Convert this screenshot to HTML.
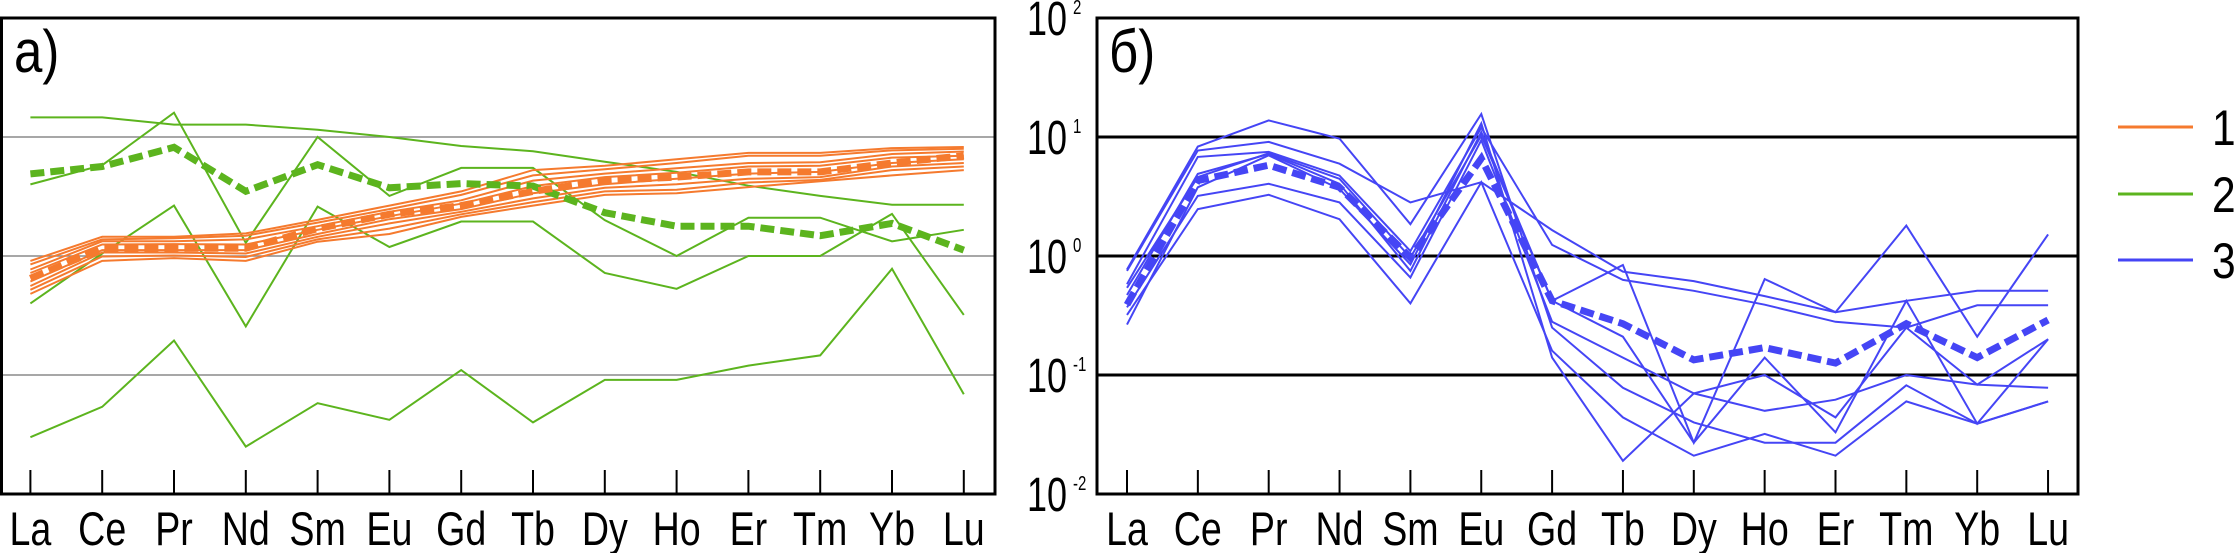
<!DOCTYPE html>
<html><head><meta charset="utf-8"><style>
html,body{margin:0;padding:0;background:#fff;}
svg{display:block;}
text{font-family:"Liberation Sans",sans-serif;fill:#000;}
</style></head><body>
<svg id="chart" width="2240" height="553" viewBox="0 0 2240 553" xmlns="http://www.w3.org/2000/svg">
<g id="panelA"></g>
<g id="panelB"></g>
<g id="legend"></g>
</svg>
<script>
const categories = ["La","Ce","Pr","Nd","Sm","Eu","Gd","Tb","Dy","Ho","Er","Tm","Yb","Lu"];
const yTickExponents = [2,1,0,-1,-2];
const legendLabels = ["1","2","3"];

const orange1 = [0.91,1.45,1.45,1.55,2.01,2.65,3.49,5.27,5.73,6.49,7.35,7.35,8.07,8.24];
const orange2 = [0.85,1.38,1.41,1.48,1.91,2.48,3.26,4.76,5.35,6.05,6.95,6.95,7.71,7.96];
const orange3 = [0.77,1.33,1.33,1.38,1.78,2.35,2.94,4.30,4.93,5.46,6.05,6.14,7.19,7.55];
const orange4 = [0.72,1.25,1.26,1.25,1.66,2.16,2.75,3.87,4.60,5.00,5.65,5.73,6.71,6.95];
const orange5 = [0.61,1.12,1.12,1.12,1.53,2.04,2.48,3.37,4.01,4.45,4.93,5.09,6.05,6.49];
const orange6 = [0.56,1.07,1.07,1.05,1.45,1.88,2.35,3.05,3.74,4.01,4.45,4.60,5.65,6.05];
const orange7 = [0.52,0.99,1.01,0.98,1.38,1.70,2.24,2.84,3.49,3.61,4.15,4.36,5.27,5.65];
const orange8 = [0.48,0.91,0.96,0.91,1.32,1.53,2.13,2.65,3.26,3.37,3.79,4.24,4.76,5.27];
const orangeMean = [0.65,1.16,1.16,1.16,1.70,2.24,2.65,3.49,4.30,4.60,5.09,5.09,6.05,6.95];

const green1 = [14.6,14.6,12.7,12.7,11.5,10,8.4,7.6,6.2,5.1,3.9,3.2,2.7,2.7];
const green2 = [4.0,5.8,16,1.29,10,3.2,5.5,5.5,2.0,1.0,2.1,2.1,1.33,1.66];
const green3 = [0.40,1.05,2.65,0.256,2.6,1.19,1.95,1.95,0.72,0.53,1.0,1.0,2.26,0.32];
const green4 = [0.030,0.054,0.195,0.025,0.058,0.042,0.11,0.040,0.091,0.091,0.12,0.146,0.78,0.069];
const greenMean = [4.9,5.65,8.2,3.5,5.85,3.74,4.06,3.87,2.31,1.78,1.78,1.48,1.88,1.12];

const blue1 = [0.77,8.3,13.8,9.7,1.85,15.6,0.25,0.078,0.04,0.027,0.027,0.082,0.039,0.06];
const blue2 = [0.75,7.7,9.1,5.96,2.82,4.17,1.65,0.74,0.615,0.46,0.337,0.42,0.51,0.51];
const blue3 = [0.58,6.8,7.5,4.74,1.10,12.0,1.24,0.63,0.51,0.39,0.28,0.25,0.385,0.385];
const blue4 = [0.47,4.9,7.2,4.04,0.75,11.0,0.42,0.84,0.027,0.64,0.337,1.8,0.21,1.52];
const blue5 = [0.37,3.2,4.04,2.82,0.66,9.4,0.28,0.14,0.07,0.05,0.062,0.1,0.083,0.078];
const blue6 = [0.32,2.48,3.27,2.04,0.40,4.17,0.16,0.044,0.021,0.032,0.021,0.06,0.039,0.06];
const blue7 = [0.54,4.6,7.3,4.45,0.97,10.3,0.42,0.21,0.027,0.14,0.033,0.42,0.039,0.20];
const blue8 = [0.265,3.78,7.0,3.66,0.85,13.0,0.14,0.019,0.07,0.10,0.044,0.25,0.083,0.20];
const blueMean = [0.39,4.3,5.8,3.78,0.97,6.6,0.42,0.27,0.134,0.17,0.126,0.27,0.14,0.29];

const NS = "http://www.w3.org/2000/svg";
const ORANGE = "#f57a2e", GREEN = "#5cb41e", BLUE = "#4545f5";
const yTop = 18, yBot = 494;
function yScale(v){ return yTop + (2 - Math.log10(v)) * (yBot - yTop) / 4; }
function xA(i){ return 30.4 + i * 71.8; }
function xB(i){ return 1127 + i * 70.85; }
function mk(tag, attrs, parent){
  const e = document.createElementNS(NS, tag);
  for (const k in attrs) e.setAttribute(k, attrs[k]);
  parent.appendChild(e); return e;
}
function series(parent, xf, data, color, dashed, name){
  const pts = data.map((v,i)=>xf(i).toFixed(1)+","+yScale(v).toFixed(1)).join(" ");
  const p = mk("polyline", {points: pts, fill:"none", stroke: color,
    "stroke-width": dashed ? 7 : 2, "stroke-linejoin":"miter",
    "stroke-dasharray": dashed ? "14 6" : "none"}, parent);
  
  
}
function catLabel(parent, x, txt){
  const t = mk("text", {transform:"translate("+x.toFixed(1)+",545) scale(0.8,1)", "text-anchor":"middle", "font-size":"47"}, parent);
  t.textContent = txt;
  
  
}
function frame(parent, x0, x1, gridColor, gridW, xf){
  yTickExponents.slice(1,4).forEach(e=>{
    const g = mk("line", {x1:x0, x2:x1, y1:yScale(Math.pow(10,e)), y2:yScale(Math.pow(10,e)), stroke:gridColor, "stroke-width":gridW}, parent);
    
    
  });
  categories.forEach((c,i)=>{
    const t = mk("line", {x1:xf(i), x2:xf(i), y1:470, y2:yBot, stroke:"#000", "stroke-width":2}, parent);
    
    
    catLabel(parent, xf(i), c);
  });
}
function border(parent, x0, x1){
  const r = mk("rect", {x:x0, y:yTop, width:x1-x0, height:yBot-yTop, fill:"none", stroke:"#000", "stroke-width":3}, parent);
  
  
}

// Panel A
const A = document.getElementById("panelA");
frame(A, 1.5, 995, "#8a8a8a", 1.5, xA);
[green1,green2,green3,green4].forEach((d,k)=>series(A, xA, d, GREEN, false, "group2-line-"+(k+1)));
[orange1,orange2,orange3,orange4,orange5,orange6,orange7,orange8].forEach((d,k)=>series(A, xA, d, ORANGE, false, "group1-line-"+(k+1)));
series(A, xA, greenMean, GREEN, true, "group2-mean-line");
series(A, xA, orangeMean, ORANGE, true, "group1-mean-line");
border(A, 1.5, 995);
const la = mk("text", {transform:"translate(14,72) scale(0.85,1)", "font-size":"60"}, A);
la.textContent = "а)";



// Panel B
const B = document.getElementById("panelB");
frame(B, 1097, 2078, "#000", 3, xB);
[blue1,blue2,blue3,blue4,blue5,blue6,blue7,blue8].forEach((d,k)=>series(B, xB, d, BLUE, false, "group3-line-"+(k+1)));
series(B, xB, blueMean, BLUE, true, "group3-mean-line");
border(B, 1097, 2078);
const lb = mk("text", {transform:"translate(1109,72) scale(0.85,1)", "font-size":"60"}, B);
lb.textContent = "б)";


yTickExponents.forEach(e=>{
  const y = yScale(Math.pow(10,e));
  const t = mk("text", {transform:"translate(1027,"+(y+17).toFixed(1)+") scale(0.75,1)", "font-size":"48"}, B);
  t.textContent = "10";
  
  
  const s = mk("text", {transform:"translate(1073,"+(y-4).toFixed(1)+") scale(0.75,1)", "font-size":"20"}, B);
  s.textContent = String(e);
  
  
});

// Legend
const L = document.getElementById("legend");
const legColors = [ORANGE, GREEN, BLUE];
const legY = [127, 194, 260];
legendLabels.forEach((lab,k)=>{
  const ln = mk("line", {x1:2118, x2:2193, y1:legY[k], y2:legY[k], stroke:legColors[k], "stroke-width":3}, L);
  
  
  const t = mk("text", {transform:"translate(2212,"+(legY[k]+18)+") scale(0.85,1)", "font-size":"50"}, L);
  t.textContent = lab;
  
  
});
</script>
</body></html>
